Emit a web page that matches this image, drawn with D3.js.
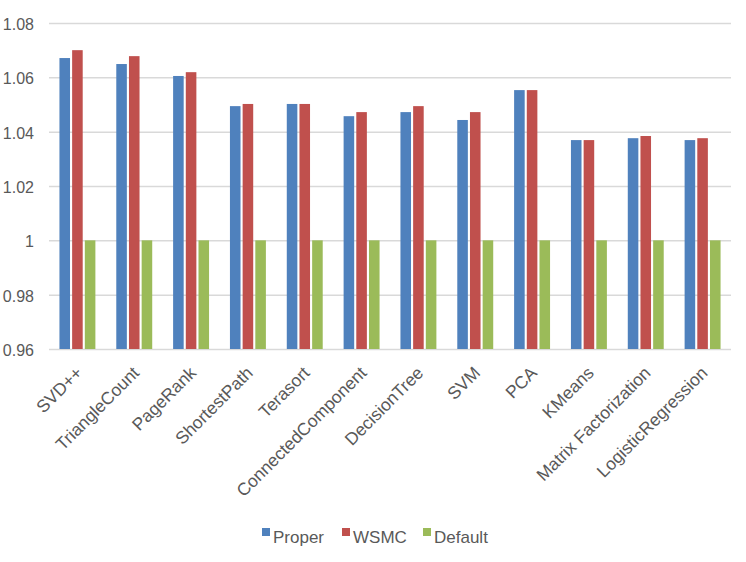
<!DOCTYPE html>
<html>
<head>
<meta charset="utf-8">
<script src="https://cdn.jsdelivr.net/npm/d3@7"></script>
<style>
  body { margin: 0; background: #fff; }
  text { font-family: "Liberation Sans", Arial, sans-serif; fill: #595959; }
</style>
</head>
<body>
<div id="chart"></div>
<script>
// data
const categories = ["SVD++", "TriangleCount", "PageRank", "ShortestPath", "Terasort",
  "ConnectedComponent", "DecisionTree", "SVM", "PCA", "KMeans",
  "Matrix Factorization", "LogisticRegression"];
const seriesNames = ["Proper", "WSMC", "Default"];
const proper = [1.0671, 1.0649, 1.0605, 1.0494, 1.0502, 1.0457, 1.0472, 1.0443, 1.0553, 1.0369, 1.0376, 1.0369];
const wsmc = [1.0700, 1.0678, 1.0619, 1.0502, 1.0502, 1.0472, 1.0494, 1.0472, 1.0553, 1.0369, 1.0384, 1.0376];
const defaults = [1, 1, 1, 1, 1, 1, 1, 1, 1, 1, 1, 1];
const yTicks = [0.96, 0.98, 1, 1.02, 1.04, 1.06, 1.08];
const colors = ["#4F81BD", "#C0504D", "#9BBB59"];

const width = 746;
const height = 562;
const margin = { top: 23, bottom: 213, left: 49, right: 15 };
const innerWidth = width - margin.left - margin.right;
const innerHeight = height - margin.top - margin.bottom;

// table built from the arrays
const values = [proper, wsmc, defaults];
const rows = categories.map((c, i) => ({
  cat: c,
  vals: seriesNames.map((s, k) => ({ series: s, k: k, v: values[k][i] })),
}));

// scales
const xScale = d3.scaleBand().domain(categories).range([0, innerWidth]);
const barW = xScale.bandwidth() * 0.186;
const xInner = d3.scaleBand()
  .domain(seriesNames)
  .range([0, barW * 3.4])
  .paddingInner(0.2 / 1.2)
  .paddingOuter(0);
const groupOffset = (xScale.bandwidth() - barW * 3.4) / 2;

const yScale = d3.scaleLinear().domain([0.96, 1.08]).range([innerHeight, 0]);

const svg = d3.select("#chart")
  .append("svg")
  .attr("width", width)
  .attr("height", height);

const g = svg.append("g")
  .attr("transform", `translate(${margin.left},${margin.top})`);

// grid + y labels
g.append("g")
  .call(d3.axisLeft(yScale).tickValues(yTicks).tickSize(-innerWidth).tickFormat(d3.format("~g")))
  .call((a) => {
    a.select(".domain").remove();
    a.selectAll("line").attr("stroke", "#D9D9D9").attr("stroke-width", 1.5);
    a.selectAll("text")
      .attr("x", -15)
      .attr("dy", "0.4em")
      .attr("font-size", 16)
      .attr("fill", "#595959")
      .attr("font-family", "Liberation Sans, Arial, sans-serif");
  });

// bars
g.append("g")
  .selectAll("g.grp")
  .data(rows)
  .join("g")
  .attr("class", "grp")
  .attr("transform", (d) => `translate(${xScale(d.cat) + groupOffset},0)`)
  .selectAll("rect")
  .data((d) => d.vals)
  .join("rect")
  .attr("x", (d) => xInner(d.series))
  .attr("y", (d) => yScale(d.v))
  .attr("width", xInner.bandwidth())
  .attr("height", (d) => innerHeight - yScale(d.v))
  .attr("fill", (d) => colors[d.k]);

// x labels, rotated
g.append("g")
  .attr("transform", `translate(0,${innerHeight})`)
  .call(d3.axisBottom(xScale).tickSize(0))
  .call((a) => {
    a.select(".domain").remove();
    a.selectAll("text")
      .attr("font-size", 17.5)
      .attr("fill", "#595959")
      .attr("font-family", "Liberation Sans, Arial, sans-serif")
      .attr("text-anchor", "end")
      .attr("y", 0)
      .attr("dy", 0)
      .attr("transform", "translate(6,25) rotate(-45)");
  });

// legend
const legend = svg.append("g").attr("transform", "translate(0,543)");
const legendX = [262, 342, 423];
seriesNames.forEach((s, k) => {
  legend.append("rect")
    .attr("x", legendX[k])
    .attr("y", -15)
    .attr("width", 8)
    .attr("height", 8)
    .attr("fill", colors[k]);
  legend.append("text")
    .attr("x", legendX[k] + 11)
    .attr("y", 0)
    .attr("font-size", 17)
    .text(s);
});
</script>
</body>
</html>
